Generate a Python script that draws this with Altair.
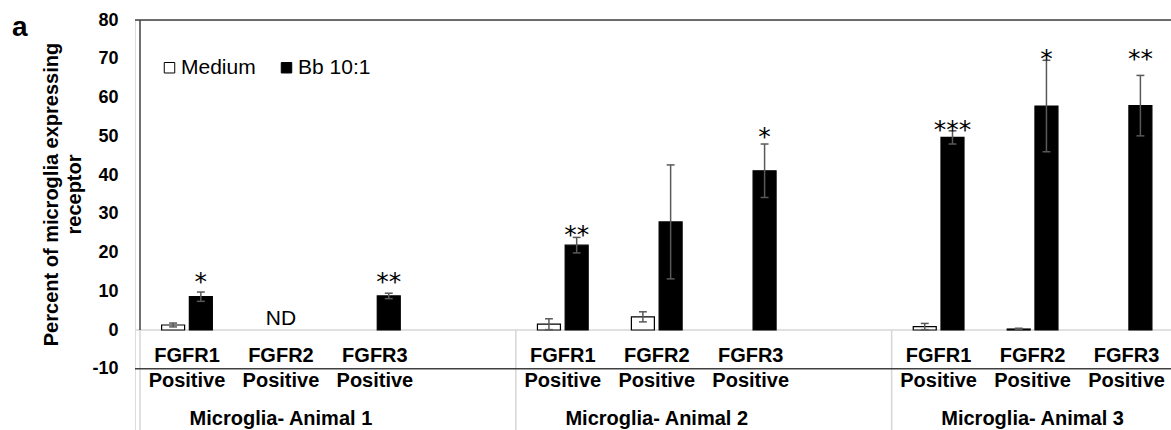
import altair as alt
import pandas as pd

groups = ["Microglia- Animal 1", "Microglia- Animal 2", "Microglia- Animal 3"]
receptors = ["FGFR1", "FGFR2", "FGFR3"]
series_names = ["Medium", "Bb 10:1"]

# order: A1 FGFR1..3, A2 FGFR1..3, A3 FGFR1..3  (None = ND)
medium_mean = [1.3, None, 0.0, 1.5, 3.4, 0.0, 0.9, 0.26, 0.0]
medium_err = [0.5, None, 0.0, 1.4, 1.3, 0.0, 0.8, 0.2, 0.0]
bb_mean = [8.6, None, 8.8, 21.9, 27.9, 41.1, 49.7, 57.8, 57.9]
bb_err = [1.2, None, 0.7, 2.0, 14.7, 6.9, 1.7, 11.8, 7.8]
sig = ["*", "", "**", "**", "", "*", "***", "*", "**"]
sig_at = [14.2, None, 14.2, 26.3, None, 51.6, 53.4, 71.7, 71.7]
y_ticks = [-10, 0, 10, 20, 30, 40, 50, 60, 70, 80]
panel_letter = ["a"]

FONT = "Liberation Sans"
DARK = "#404040"
LIGHT = "#d6d6d6"

rows, stars, labels, nd = [], [], [], []
for g, grp in enumerate(groups):
    for r, rec in enumerate(receptors):
        i = g * 3 + r
        slot = g * 4 + r
        labels.append(dict(slot=slot, line1=rec, line2="Positive"))
        if bb_mean[i] is None:
            nd.append(dict(slot=slot, text="ND"))
            continue
        for s, means, errs in [("Medium", medium_mean, medium_err), ("Bb 10:1", bb_mean, bb_err)]:
            rows.append(dict(group=grp, receptor=rec, slot=slot, series=s, mean=means[i], err=errs[i]))
        if sig[i]:
            stars.append(dict(slot=slot, sig=sig[i], at=sig_at[i]))

df = pd.DataFrame(rows)
df_stars = pd.DataFrame(stars)
df_labels = pd.DataFrame(labels)
df_nd = pd.DataFrame(nd)
df_panel = pd.DataFrame({"t": panel_letter})
grp_rows = []
for g, grp in enumerate(groups):
    slots = [s for s in df_labels["slot"] if g * 4 <= s < g * 4 + 4]
    grp_rows.append(dict(group=grp, center=sum(slots) / len(slots), edge=min(slots) - 0.5))
df_groups = pd.DataFrame(grp_rows)
df_one = pd.DataFrame({"k": [0]})

xs = alt.Scale(domain=[-0.5, 10.42], nice=False, zero=False)
ys = alt.Scale(domain=[-25.8, 80], nice=False, zero=False)

TITLE = ["Percent of microglia expressing", "receptor"]
yaxis = alt.Axis(
    values=y_ticks, grid=False, domain=False, ticks=False, labelPadding=17,
    labelExpr="'' + datum.value",
    labelFont=FONT, labelFontSize=18, labelFontWeight="bold", labelColor="black",
    titleFont=FONT, titleFontSize=20, titleFontWeight="bold", titleColor="black",
    titleX=-94, titleY=174, titleAngle=-90, titleAlign="center", titleBaseline="top",
    titleLineHeight=23,
)


def Y(field):
    return alt.Y(field, scale=ys, axis=yaxis, title=TITLE)


def YD(v):
    return alt.YDatum(v, scale=ys, axis=yaxis, title=TITLE)


base = alt.Chart(df).transform_calculate(
    pos="datum.slot + (datum.series == 'Medium' ? -0.1476 : 0.1476)",
    lo="datum.mean - datum.err",
    hi="datum.mean + datum.err",
)

zero_line = alt.Chart(df_one).mark_rule(color=LIGHT, strokeWidth=1.5).encode(y=YD(0))

seps = alt.Chart(df_groups).mark_rule(color=LIGHT, strokeWidth=1.5).encode(
    x=alt.X("edge:Q", scale=xs, axis=None),
    y=YD(0),
    y2=alt.Y2Datum(-25.8),
)

bars = base.transform_filter("datum.mean > 0").mark_bar(
    width=23, stroke="black", strokeWidth=1.2
).encode(
    x=alt.X("pos:Q", scale=xs, axis=None),
    y=Y("mean:Q"),
    y2=alt.Y2Datum(0),
    fill=alt.Fill(
        "series:N",
        scale=alt.Scale(domain=series_names, range=["white", "black"]),
        legend=alt.Legend(
            title=None, orient="none", legendX=24, legendY=37, direction="horizontal",
            symbolType="square", symbolSize=110, symbolStrokeColor="black",
            symbolStrokeWidth=1, labelFont=FONT, labelFontSize=21, labelColor="black",
            columnPadding=20, labelOffset=1, padding=0,
        ),
    ),
)

err_base = base.transform_filter("datum.err > 0")
err_v = err_base.mark_rule(color="#595959", strokeWidth=1.5).encode(
    x=alt.X("pos:Q", scale=xs, axis=None),
    y=Y("lo:Q"),
    y2="hi:Q",
)
cap_hi = err_base.transform_calculate(a="datum.pos - 0.042", b="datum.pos + 0.042").mark_rule(
    color="#595959", strokeWidth=1.5
).encode(
    x=alt.X("a:Q", scale=xs, axis=None), x2="b:Q",
    y=Y("hi:Q"),
)
cap_lo = err_base.transform_calculate(a="datum.pos - 0.042", b="datum.pos + 0.042").mark_rule(
    color="#595959", strokeWidth=1.5
).encode(
    x=alt.X("a:Q", scale=xs, axis=None), x2="b:Q",
    y=Y("lo:Q"),
)

star_txt = alt.Chart(df_stars).transform_calculate(pos="datum.slot + 0.1476").mark_text(
    font="DejaVu Sans", fontSize=25, baseline="alphabetic", align="center", dy=15, color="black"
).encode(
    x=alt.X("pos:Q", scale=xs, axis=None),
    y=Y("at:Q"),
    text="sig:N",
)

nd_txt = alt.Chart(df_nd).mark_text(
    font=FONT, fontSize=21, baseline="alphabetic", align="center", color="black"
).encode(
    x=alt.X("slot:Q", scale=xs, axis=None),
    y=YD(1.3),
    text="text:N",
)

lab1 = alt.Chart(df_labels).mark_text(
    font=FONT, fontSize=20, fontWeight="bold", baseline="alphabetic", align="center", color="black"
).encode(
    x=alt.X("slot:Q", scale=xs, axis=None),
    y=YD(-8.2),
    text="line1:N",
)
lab2 = alt.Chart(df_labels).mark_text(
    font=FONT, fontSize=20, fontWeight="bold", baseline="alphabetic", align="center", color="black"
).encode(
    x=alt.X("slot:Q", scale=xs, axis=None),
    y=YD(-14.7),
    text="line2:N",
)
grp_txt = alt.Chart(df_groups).mark_text(
    font=FONT, fontSize=20, fontWeight="bold", baseline="alphabetic", align="center", color="black"
).encode(
    x=alt.X("center:Q", scale=xs, axis=None),
    y=YD(-24.4),
    text="group:N",
)

top_line = alt.Chart(df_one).mark_rule(color=DARK, strokeWidth=1.5).encode(y=YD(80))
bottom_line = alt.Chart(df_one).mark_rule(color=DARK, strokeWidth=1.5).encode(y=YD(-10))
left_line = alt.Chart(df_one).mark_rule(color=DARK, strokeWidth=1.5).encode(
    x=alt.XDatum(-0.5, scale=xs, axis=None),
    y=YD(0),
    y2=alt.Y2Datum(80),
)

panel = alt.Chart(df_panel).mark_text(
    font=FONT, fontSize=28, fontWeight="bold", align="left", baseline="alphabetic", color="black"
).encode(x=alt.value(-123), y=alt.value(16), text="t:N")

chart = alt.layer(
    zero_line, seps, bars, err_v, cap_hi, cap_lo, star_txt, nd_txt, lab1, lab2, grp_txt,
    top_line, bottom_line, left_line, panel,
).properties(
    width=1036, height=410,
    autosize=alt.AutoSizeParams(type="none"),
    padding={"left": 135, "top": 20, "right": 0, "bottom": 0},
).configure_view(stroke=None).configure(background="white")

chart.save("out.html", embed_options={"renderer": "svg", "actions": False})
